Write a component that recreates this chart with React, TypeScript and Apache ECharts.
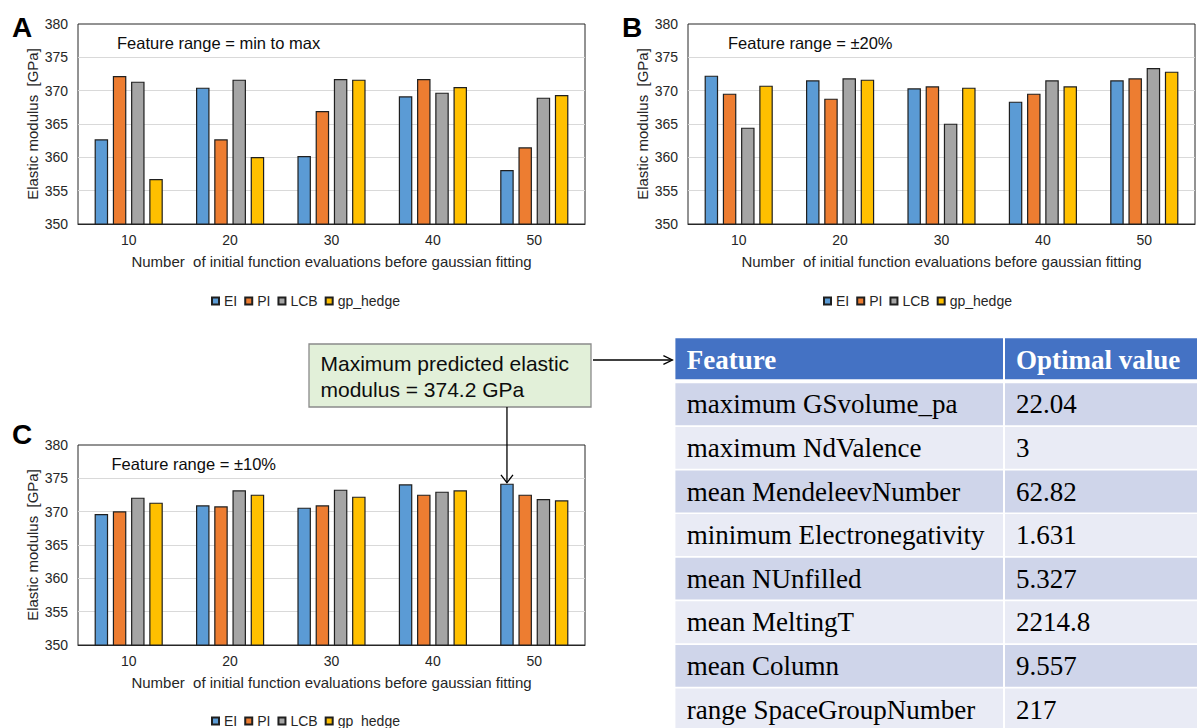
import React, { useEffect, useRef } from 'react';
import * as echarts from 'echarts';

const categories = ['10', '20', '30', '40', '50'];
const seriesNames = ['EI', 'PI', 'LCB', 'gp_hedge'];
const seriesColors = ['#5B9BD5', '#ED7D31', '#A5A5A5', '#FFC000'];

// Panel A: Feature range = min to max
const aEI = [362.7, 370.45, 360.2, 369.15, 358.1];
const aPI = [372.2, 362.7, 366.95, 371.75, 361.5];
const aLCB = [371.35, 371.65, 371.75, 369.7, 368.95];
const aGP = [356.75, 360.05, 371.65, 370.55, 369.35];

// Panel B: Feature range = ±20%
const bEI = [372.25, 371.55, 370.35, 368.35, 371.55];
const bPI = [369.55, 368.8, 370.65, 369.55, 371.85];
const bLCB = [364.45, 371.85, 365.05, 371.55, 373.4];
const bGP = [370.75, 371.65, 370.45, 370.65, 372.85];

// Panel C: Feature range = ±10%
const cEI = [369.65, 370.95, 370.6, 374.1, 374.2];
const cPI = [370.05, 370.8, 370.95, 372.55, 372.55];
const cLCB = [372.1, 373.2, 373.3, 373.0, 371.9];
const cGP = [371.35, 372.55, 372.25, 373.2, 371.7];

const panelLetters = ['A', 'B', 'C'];
const panelNotes = ['Feature range = min to max', 'Feature range = \u00b120%', 'Feature range = \u00b110%'];
const yMin = 350;
const yMax = 380;
const yStep = 5;

const tableHeader = ['Feature', 'Optimal value'];
const tableFeatures = [
  'maximum GSvolume_pa',
  'maximum NdValence',
  'mean MendeleevNumber',
  'minimum Electronegativity',
  'mean NUnfilled',
  'mean MeltingT',
  'mean Column',
  'range SpaceGroupNumber',
];
const tableValues = ['22.04', '3', '62.82', '1.631', '5.327', '2214.8', '9.557', '217'];

const SANS = '"Liberation Sans", Arial, sans-serif';
const SERIF = '"Liberation Serif", "Times New Roman", serif';
const TXT = '#262626';
const BAR_W = 13.5;
const BAR_GAP = 0.35;

export default function App() {
  const ref = useRef<HTMLDivElement>(null);

  useEffect(() => {
    document.body.style.margin = '0';
    const chart = echarts.init(ref.current!, undefined, { renderer: 'svg' });

    const panels = [
      [aEI, aPI, aLCB, aGP],
      [bEI, bPI, bLCB, bGP],
      [cEI, cPI, cLCB, cGP],
    ];
    const grids = [
      { left: 78, top: 24, width: 507, height: 200 },
      { left: 688, top: 24, width: 507, height: 200 },
      { left: 78, top: 445, width: 507, height: 200 },
    ];
    const legendPos = [
      { left: 211, top: 294 },
      { left: 823, top: 294 },
      { left: 211, top: 714 },
    ];

    const series: any[] = [];
    panels.forEach((data, gi) => {
      data.forEach((vals, si) => {
        series.push({
          type: 'bar',
          name: seriesNames[si],
          xAxisIndex: gi,
          yAxisIndex: gi,
          data: vals,
          barWidth: BAR_W,
          barGap: BAR_GAP * 100 + '%',
          itemStyle: { color: seriesColors[si], borderColor: '#1f1f1f', borderWidth: 1.2 },
        });
      });
    });

    const option: any = {
      animation: false,
      backgroundColor: '#ffffff',
      grid: grids.map((g) => ({ ...g, show: true, borderColor: TXT, borderWidth: 1, containLabel: false })),
      xAxis: grids.map((_, i) => ({
        type: 'category',
        gridIndex: i,
        data: categories,
        axisTick: { show: false },
        axisLine: { lineStyle: { color: TXT, width: 1 } },
        axisLabel: { fontSize: 14, color: TXT, margin: 9, fontFamily: SANS },
        name: 'Number  of initial function evaluations before gaussian fitting',
        nameLocation: 'middle',
        nameGap: 30,
        nameTextStyle: { fontSize: 15, color: TXT, fontFamily: SANS },
      })),
      yAxis: grids.map((_, i) => ({
        type: 'value',
        gridIndex: i,
        min: yMin,
        max: yMax,
        interval: yStep,
        axisLine: { show: false },
        axisTick: { show: false },
        axisLabel: { fontSize: 14, color: TXT, margin: 10, fontFamily: SANS },
        splitLine: { show: true, showMinLine: false, showMaxLine: false, lineStyle: { color: '#d9d9d9', width: 1 } },
        name: 'Elastic modulus  [GPa]',
        nameLocation: 'middle',
        nameRotate: 90,
        nameGap: 38,
        nameTextStyle: { fontSize: 15, color: TXT, fontFamily: SANS },
      })),
      legend: legendPos.map((p) => ({
        ...p,
        orient: 'horizontal',
        padding: 0,
        data: seriesNames,
        icon: 'rect',
        itemWidth: 7,
        itemHeight: 7,
        itemGap: 7,
        selectedMode: false,
        textStyle: { fontSize: 14, color: TXT, fontFamily: SANS },
      })),
      series,
    };

    chart.setOption(option);

    // Annotation pointing at the maximum of panel C
    let maxVal = -Infinity;
    let maxSeries = 0;
    let maxCat = 0;
    panels[2].forEach((vals, si) =>
      vals.forEach((v, ci) => {
        if (v > maxVal) {
          maxVal = v;
          maxSeries = si;
          maxCat = ci;
        }
      })
    );
    const pt = chart.convertToPixel({ gridIndex: 2 } as any, [categories[maxCat], maxVal]) as number[];
    const pitch = BAR_W * (1 + BAR_GAP);
    const tipX = pt[0] + (maxSeries - 1.5) * pitch;
    const tipY = pt[1] - 1;

    const els: any[] = [];
    const txt = (x: number, y: number, text: string, size: number, extra: any = {}) => ({
      type: 'text',
      x,
      y,
      silent: true,
      style: {
        text,
        fontSize: size,
        fontFamily: SANS,
        fill: '#000',
        align: 'left',
        textAlign: 'left',
        verticalAlign: 'middle',
        textVerticalAlign: 'middle',
        ...extra,
      },
    });

    // Panel letters and notes
    const letterPos = [
      [12, 27.5],
      [622, 27.5],
      [12, 434.5],
    ];
    const notePos = [
      [117, 42.5],
      [728, 42.5],
      [111.5, 463.5],
    ];
    panelLetters.forEach((l, i) => {
      els.push(txt(letterPos[i][0], letterPos[i][1], l, 28, { fontWeight: 'bold' }));
      els.push(txt(notePos[i][0], notePos[i][1], panelNotes[i], 16.5, { fill: '#0d0d0d' }));
    });

    // Annotation box
    const boxX = 309;
    const boxY = 344;
    const boxW = 282;
    const boxH = 63;
    els.push({
      type: 'rect',
      shape: { x: boxX, y: boxY, width: boxW, height: boxH },
      style: { fill: '#E2F0D9', stroke: '#8a8a8a', lineWidth: 1.3 },
    });
    els.push(txt(320.5, 363.7, 'Maximum predicted elastic', 21, { fill: '#0d0d0d' }));
    els.push(txt(320.5, 389.4, 'modulus = ' + maxVal.toFixed(1) + ' GPa', 21, { fill: '#0d0d0d' }));

    // Vertical arrow to the maximum bar
    els.push({
      type: 'line',
      shape: { x1: tipX, y1: boxY + boxH, x2: tipX, y2: tipY },
      style: { stroke: '#000', lineWidth: 1.3 },
    });
    els.push({
      type: 'polyline',
      shape: { points: [[tipX - 6, tipY - 7.7], [tipX, tipY], [tipX + 6, tipY - 7.7]] },
      style: { stroke: '#000', lineWidth: 1.3, fill: 'none' },
    });

    // Table
    const tLeft = 675.4;
    const tDiv = 1004;
    const tRight = 1197;
    const headTop = 338.3;
    const headH = 41;
    const rowTop0 = 383.3;
    const rowPitch = 43.6;
    const rowH = 41.9;

    // Horizontal arrow to the table
    const arrowY = 360;
    els.push({
      type: 'line',
      shape: { x1: boxX + boxW + 2, y1: arrowY, x2: tLeft - 3, y2: arrowY },
      style: { stroke: '#000', lineWidth: 1.3 },
    });
    els.push({
      type: 'polyline',
      shape: { points: [[tLeft - 12, arrowY - 4.3], [tLeft - 3, arrowY], [tLeft - 12, arrowY + 4.3]] },
      style: { stroke: '#000', lineWidth: 1.3, fill: 'none' },
    });

    els.push({
      type: 'rect',
      shape: { x: tLeft, y: headTop, width: tDiv - 1 - tLeft, height: headH },
      style: { fill: '#4472C4' },
    });
    els.push({
      type: 'rect',
      shape: { x: tDiv + 1, y: headTop, width: tRight - tDiv - 1, height: headH },
      style: { fill: '#4472C4' },
    });
    els.push(txt(686.7, headTop + 22, tableHeader[0], 27, { fontFamily: SERIF, fontWeight: 'bold', fill: '#ffffff' }));
    els.push(txt(1016, headTop + 22, tableHeader[1], 27, { fontFamily: SERIF, fontWeight: 'bold', fill: '#ffffff' }));

    tableFeatures.forEach((f, i) => {
      const y = rowTop0 + i * rowPitch;
      const fill = i % 2 === 0 ? '#CFD5EA' : '#E9EBF5';
      els.push({ type: 'rect', shape: { x: tLeft, y, width: tDiv - 1 - tLeft, height: rowH }, style: { fill } });
      els.push({ type: 'rect', shape: { x: tDiv + 1, y, width: tRight - tDiv - 1, height: rowH }, style: { fill } });
      els.push(txt(686.7, y + 21, f, 27, { fontFamily: SERIF }));
      els.push(txt(1016, y + 21, tableValues[i], 27, { fontFamily: SERIF }));
    });

    chart.setOption({ graphic: { elements: els } });

    return () => chart.dispose();
  }, []);

  return <div ref={ref} style={{ width: 1197, height: 728, background: '#fff' }} />;
}
